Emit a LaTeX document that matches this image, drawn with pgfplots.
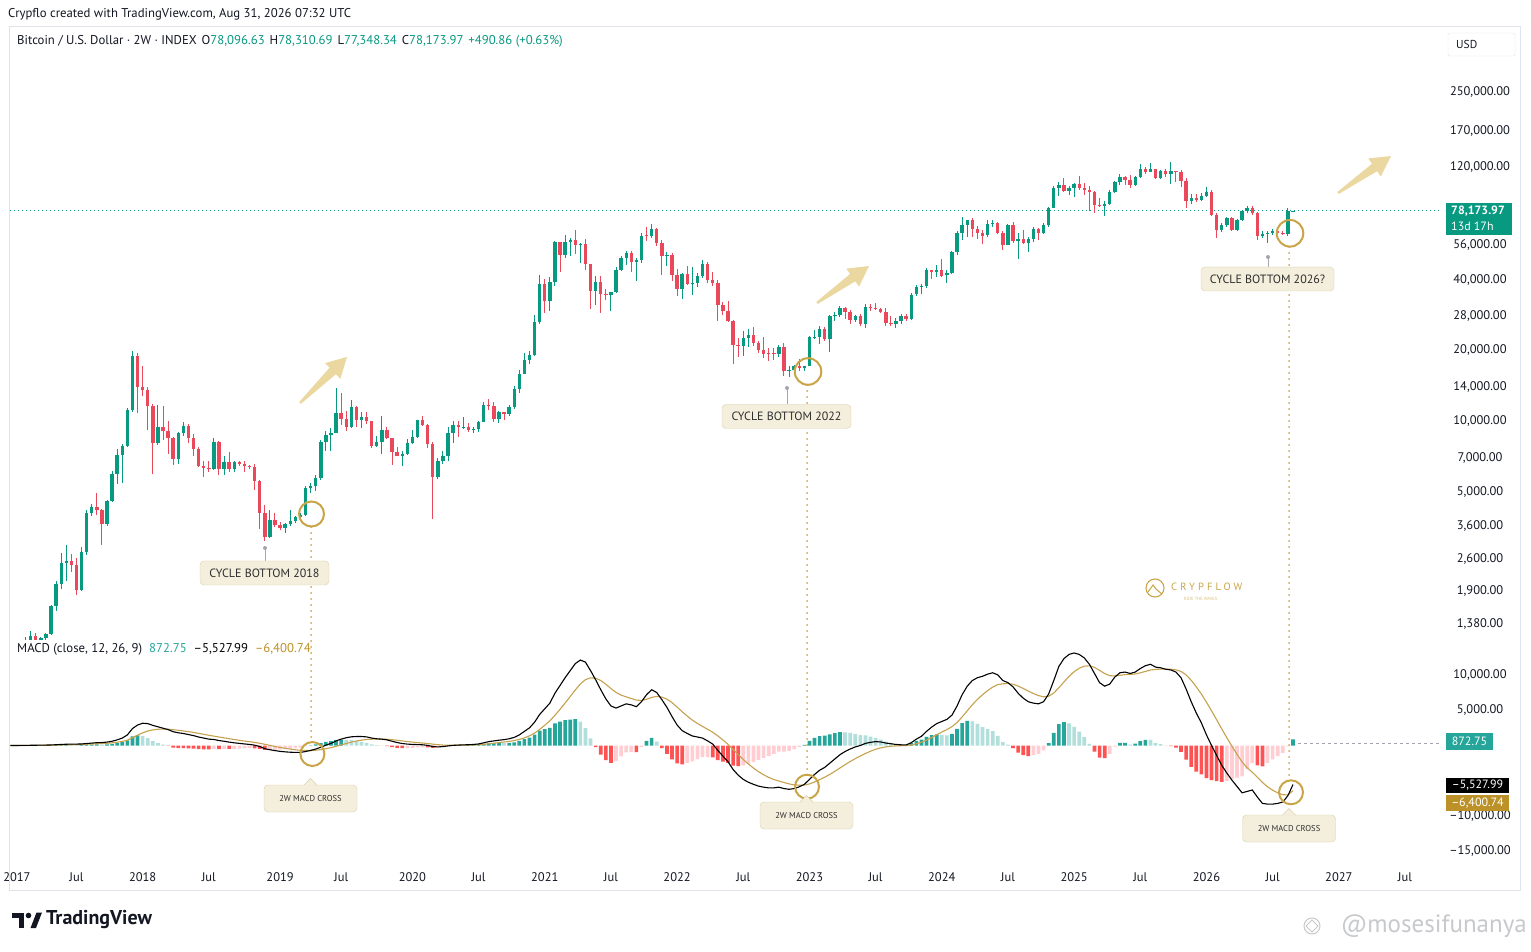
\documentclass[border=0pt]{standalone}
\usepackage{pgfplots}
\pgfplotsset{compat=1.18}
\usepackage{pgfplotstable}
\usepackage{fontspec}
\setmainfont{PT Sans}
\newfontfamily\lsfont[LetterSpace=30]{PT Sans}
\definecolor{tvgreen}{HTML}{089981}
\definecolor{tvred}{HTML}{E9495A}
\definecolor{tvtext}{HTML}{131722}
\definecolor{hgu}{HTML}{26A69A}
\definecolor{hfu}{HTML}{B2DFDB}
\definecolor{hgd}{HTML}{FFCDD2}
\definecolor{hfd}{HTML}{FF5252}
\definecolor{sigc}{HTML}{C6A24E}
\definecolor{sigbox}{HTML}{BC9228}
\definecolor{gold}{HTML}{C9A548}
\definecolor{boxfill}{HTML}{F4EEDC}
\definecolor{boxdraw}{HTML}{DCD0AC}
\definecolor{boxtext}{HTML}{2E2E2E}
\definecolor{arrowc}{HTML}{EAD8A0}
\definecolor{framec}{HTML}{E0E3EB}
\definecolor{ptrc}{HTML}{A3A6AE}
\definecolor{wmc}{HTML}{C8C9CC}

\pgfplotstableread{
i o h l c
0 998 1150 750 820
1 820 930 800 920
2 920 1060 910 995
3 995 1210 980 1180
4 1180 1290 1120 1230
5 1230 1260 890 1040
6 1040 1210 1010 1200
7 1200 1270 1170 1250
8 1250 1660 1240 1640
9 1640 2100 1560 2050
10 2050 2760 1950 2500
11 2500 2980 2100 2550
12 2550 2740 2300 2450
13 2450 2640 1840 1930
14 1930 2920 1900 2800
15 2800 4200 2700 4100
16 4100 4480 3950 4350
17 4350 4980 4000 4200
18 4200 4250 2980 3650
19 3650 4650 3580 4600
20 4600 6150 4550 5950
21 5950 7600 5400 7200
22 7200 8000 5500 7850
23 7850 11400 7800 11200
24 11200 19800 11000 19000
25 19000 19500 10800 14000
26 14000 17200 12800 13600
27 13600 14000 9200 11600
28 11600 11800 6000 8100
29 8100 11700 7900 9500
30 9500 11600 8300 9100
31 9100 10000 7300 8500
32 8500 8600 6500 6900
33 6900 9000 6600 8900
34 8900 9900 8700 9600
35 9600 9700 8100 8500
36 8500 8800 7100 7600
37 7600 7800 6400 6450
38 6450 6800 5800 6350
39 6350 6800 6100 6250
40 6250 8500 6200 8200
41 8200 8250 5900 6300
42 6300 7100 5900 6700
43 6700 7400 6100 6250
44 6250 6800 6100 6700
45 6700 6800 6450 6600
46 6600 6780 6100 6450
47 6450 6550 6250 6400
48 6400 6600 5100 5600
49 5600 5650 3500 4100
50 4100 4400 3120 3230
51 3230 4200 3200 3800
52 3800 4100 3550 3620
53 3620 3750 3450 3540
54 3540 3700 3370 3650
55 3650 4200 3580 3780
56 3780 3950 3700 3930
57 3930 4070 3830 4010
58 4010 5300 3950 5200
59 5200 5470 4950 5300
60 5300 5900 5050 5750
61 5750 8350 5650 8200
62 8200 9100 7500 8750
63 8750 9400 7450 8950
64 8950 13900 8950 10800
65 10800 13200 9650 10250
66 10250 11100 9100 9500
67 9500 12300 9400 11500
68 11500 11600 9500 10150
69 10150 10950 9350 10400
70 10400 10950 9750 10000
71 10000 10050 7700 7850
72 7850 8650 7800 8200
73 8200 10500 7300 9200
74 9200 9500 8400 8500
75 8500 8500 6500 7400
76 7400 7750 7100 7100
77 7100 7500 6450 7300
78 7300 8450 7200 8100
79 8100 9200 8050 8600
80 8600 10150 8500 10150
81 10150 10500 9600 9650
82 9650 9700 7700 8030
83 8030 8180 3850 5830
84 5830 7000 5700 6780
85 6780 7470 6600 7120
86 7120 9450 6800 8900
87 8900 10000 8100 9680
88 9680 10050 8600 9450
89 9450 10400 9300 9450
90 9450 9800 9000 9150
91 9150 9450 8950 9250
92 9250 10000 9050 9950
93 9950 12100 9900 11700
94 11700 12470 11150 11650
95 11650 12100 9900 10250
96 10250 11100 9850 10950
97 10950 10950 10150 10780
98 10780 11700 10550 11500
99 11500 14100 11300 13750
100 13750 16500 13200 15950
101 15950 19500 15900 18200
102 18200 19900 17600 19150
103 19150 28400 19000 26300
104 26300 41950 26000 38200
105 38200 40100 28800 32300
106 32300 40950 29300 38900
107 38900 58350 37400 57500
108 57500 58000 43000 51000
109 51000 61800 49300 57500
110 57500 60000 50400 58700
111 58700 64900 51500 56200
112 56200 57000 47000 56600
113 56600 59600 43900 46400
114 46400 46700 30000 35700
115 35700 41300 31100 39100
116 39100 41300 28800 34700
117 34700 36600 32700 34250
118 34250 35500 29300 35400
119 35400 45300 35200 43800
120 43800 50500 43500 49300
121 49300 52900 46300 51800
122 51800 52900 42900 47300
123 47300 49300 39600 48200
124 48200 62900 47100 61500
125 61500 67000 58100 61300
126 61300 69000 60100 65500
127 65500 66400 55600 57300
128 57300 59100 42000 50100
129 50100 52100 45600 50800
130 50800 52000 39600 41900
131 41900 44500 34000 36300
132 36300 42600 32900 42400
133 42400 45800 37900 38400
134 38400 45400 34300 38500
135 38500 42600 37200 41300
136 41300 48200 40500 46400
137 46400 47400 38600 39700
138 39700 42900 37600 38500
139 38500 40000 26700 31300
140 31300 32000 28200 29450
141 29450 32400 26500 26600
142 26600 26900 17600 21000
143 21000 22500 18800 20850
144 20850 24300 18900 22600
145 22600 24700 20700 23200
146 23200 25200 20800 21500
147 21500 22000 19500 20000
148 20000 22800 18500 19400
149 19400 20400 18100 19300
150 19300 20500 18200 19250
151 19250 21000 18700 20600
152 20600 21500 15600 16300
153 16300 17200 15500 16450
154 16450 17400 16000 17100
155 17100 18400 16300 16840
156 16840 17250 16350 17200
157 17200 23000 17150 22700
158 22700 24300 22300 22900
159 22900 25300 21400 24600
160 24600 25100 21900 22400
161 22400 28400 19600 28000
162 28000 29200 26600 28200
163 28200 31000 27800 30300
164 30300 30500 27100 29250
165 29250 29800 25900 26900
166 26900 28400 26300 28100
167 28100 28450 25350 25850
168 25850 31400 24800 30500
169 30500 31400 29500 30200
170 30200 31800 29700 30100
171 30100 30200 28900 29050
172 29050 30200 25300 26100
173 26100 28100 25400 25950
174 25950 27500 24900 26550
175 26550 28600 26000 27950
176 27950 28600 26550 27150
177 27150 35000 26900 34550
178 34550 38000 33900 37050
179 37050 38400 34800 37450
180 37450 44700 36900 43800
181 43800 44000 40200 43000
182 43000 45900 40800 43950
183 43950 49000 41500 41600
184 41600 43900 38500 42600
185 42600 52800 42300 52100
186 52100 64000 50600 63100
187 63100 73800 59000 68400
188 68400 71500 60800 71300
189 71300 72800 60700 65700
190 65700 67200 59600 63100
191 63100 64700 56500 61500
192 61500 71900 60700 68600
193 68600 71900 66600 69600
194 69600 70100 62900 63200
195 63200 64500 53500 55900
196 55900 68500 55900 68200
197 68200 70000 57100 58100
198 58100 62800 49000 59400
199 59400 65100 57200 57300
200 57300 60600 52500 59200
201 59200 66500 57500 65600
202 65600 66000 58900 62800
203 62800 69500 62400 67900
204 67900 81500 66800 80400
205 80400 99600 80200 97900
206 97900 104000 90700 101200
207 101200 108300 94000 95100
208 95100 99900 91500 98300
209 98300 102700 89300 101300
210 101300 109600 96200 97700
211 97700 102500 91200 96100
212 96100 99500 78200 94200
213 94200 95000 76600 82600
214 82600 88800 81200 82400
215 82400 86100 74400 83700
216 83700 95800 83100 93800
217 93800 104300 93400 104100
218 104100 112000 100700 109000
219 109000 110400 100400 105700
220 105700 110600 98200 101000
221 101000 110500 99600 109200
222 109200 123200 107500 117300
223 117300 120200 111900 114200
224 114200 124500 114100 117400
225 117400 117600 107300 108200
226 108200 116800 107300 115300
227 115300 118000 108700 112100
228 112100 126200 102000 115200
229 115200 116000 103500 114500
230 114500 116400 98900 104700
231 104700 107500 80700 86000
232 86000 92000 83500 88800
233 88800 92500 85500 87000
234 87000 92800 86000 90600
235 90600 98500 89500 94400
236 94400 96000 74500 75100
237 75100 76300 59800 65000
238 65000 69500 63800 68100
239 68100 73500 67000 72800
240 72800 74000 64500 65000
241 65000 72500 64200 71600
242 71600 78800 70800 78000
243 78000 81800 77000 80700
244 80700 82000 75500 76300
245 76300 77500 58900 61400
246 61400 64200 60200 62500
247 62500 64500 57300 63300
248 63300 65500 62000 64000
249 64000 65000 62500 63000
250 63000 64200 61800 62300
251 62300 80700 61000 78096.63
252 78096.63 78310.69 77348.34 78173.97
}\candles

\pgfplotstableread{
i m s h k
0 0 0 0 2
1 0 0 0 2
2 10 2 8 1
3 20 6 14 1
4 30 11 19 1
5 40 17 23 1
6 50 24 26 1
7 60 31 29 1
8 80 41 39 1
9 110 55 55 1
10 150 74 76 1
11 180 95 85 1
12 200 116 84 2
13 200 133 67 2
14 220 150 70 1
15 280 176 104 1
16 340 209 131 1
17 400 247 153 1
18 420 282 138 2
19 480 322 158 1
20 600 378 222 1
21 800 462 338 1
22 1050 580 470 1
23 1500 764 736 1
24 2400 1091 1309 1
25 2900 1453 1447 1
26 3150 1792 1358 2
27 3100 2054 1046 2
28 2850 2213 637 2
29 2650 2300 350 2
30 2450 2330 120 2
31 2250 2314 -64 4
32 1950 2241 -291 4
33 1800 2153 -353 4
34 1700 2062 -362 4
35 1550 1960 -410 4
36 1400 1848 -448 4
37 1200 1718 -518 4
38 1050 1584 -534 4
39 900 1447 -547 4
40 850 1328 -478 3
41 700 1202 -502 4
42 600 1082 -482 3
43 480 962 -482 4
44 380 846 -466 3
45 300 737 -437 3
46 220 634 -414 3
47 150 537 -387 3
48 50 440 -390 4
49 -150 322 -472 4
50 -450 168 -618 4
51 -600 14 -614 3
52 -720 -133 -587 3
53 -830 -272 -558 3
54 -900 -398 -502 3
55 -950 -508 -442 3
56 -980 -602 -378 3
57 -980 -678 -302 3
58 -850 -712 -138 3
59 -700 -710 10 1
60 -500 -668 168 1
61 -250 -584 334 1
62 50 -457 507 1
63 300 -306 606 1
64 650 -115 765 1
65 900 88 812 1
66 1100 290 810 2
67 1230 478 752 2
68 1270 636 634 2
69 1270 763 507 2
70 1220 854 366 2
71 1050 893 157 2
72 950 904 46 2
73 900 903 -3 4
74 800 882 -82 4
75 600 826 -226 4
76 420 745 -325 4
77 280 652 -372 4
78 200 562 -362 3
79 150 480 -330 3
80 130 410 -280 3
81 100 348 -248 3
82 20 282 -262 4
83 -150 196 -346 4
84 -200 117 -317 3
85 -150 64 -214 3
86 -60 39 -99 3
87 20 35 -15 3
88 60 40 20 1
89 90 50 40 1
90 110 62 48 1
91 150 80 70 1
92 220 108 112 1
93 380 162 218 1
94 550 240 310 1
95 650 322 328 1
96 750 408 342 1
97 830 492 338 2
98 950 584 366 1
99 1150 697 453 1
100 1500 858 642 1
101 2000 1086 914 1
102 2500 1369 1131 1
103 3300 1755 1545 1
104 4400 2284 2116 1
105 5200 2867 2333 1
106 6000 3494 2506 1
107 7400 4275 3125 1
108 8500 5120 3380 1
109 9600 6016 3584 1
110 10600 6933 3667 1
111 11600 7866 3734 1
112 12100 8713 3387 2
113 11800 9330 2470 2
114 10600 9584 1016 2
115 9300 9527 -227 4
116 7900 9202 -1302 4
117 6600 8682 -2082 4
118 5600 8066 -2466 4
119 5300 7513 -2213 3
120 5600 7130 -1530 3
121 5900 6884 -984 3
122 5750 6657 -907 3
123 5500 6426 -926 4
124 6200 6381 -181 3
125 7200 6545 655 1
126 7900 6816 1084 1
127 7500 6953 547 2
128 6500 6862 -362 4
129 5400 6570 -1170 4
130 4100 6076 -1976 4
131 2900 5441 -2541 4
132 2100 4773 -2673 4
133 1700 4158 -2458 3
134 1350 3596 -2246 3
135 1200 3117 -1917 3
136 1050 2704 -1654 3
137 650 2293 -1643 3
138 200 1874 -1674 4
139 -700 1359 -2059 4
140 -1500 787 -2287 4
141 -2300 170 -2470 4
142 -3400 -544 -2856 4
143 -4200 -1275 -2925 4
144 -4800 -1980 -2820 3
145 -5200 -2624 -2576 3
146 -5500 -3199 -2301 3
147 -5750 -3709 -2041 3
148 -5900 -4147 -1753 3
149 -6000 -4518 -1482 3
150 -6000 -4814 -1186 3
151 -5900 -5031 -869 3
152 -6100 -5245 -855 3
153 -6200 -5436 -764 3
154 -6100 -5569 -531 3
155 -5850 -5625 -225 3
156 -5500 -5600 100 1
157 -4800 -5440 640 1
158 -4100 -5172 1072 1
159 -3500 -4838 1338 1
160 -3100 -4490 1390 1
161 -2500 -4092 1592 1
162 -1900 -3654 1754 1
163 -1300 -3183 1883 1
164 -850 -2716 1866 2
165 -500 -2273 1773 2
166 -200 -1858 1658 2
167 0 -1486 1486 2
168 300 -1129 1429 2
169 450 -813 1263 2
170 550 -540 1090 2
171 500 -332 832 2
172 350 -196 546 2
173 250 -107 357 2
174 150 -56 206 2
175 100 -25 125 2
176 80 -4 84 2
177 400 77 323 1
178 900 242 658 1
179 1300 454 846 1
180 2000 763 1237 1
181 2600 1130 1470 1
182 3100 1524 1576 1
183 3400 1899 1501 2
184 3700 2259 1441 2
185 4300 2667 1633 1
186 5600 3254 2346 1
187 7200 4043 3157 1
188 8400 4914 3486 1
189 9200 5771 3429 2
190 9600 6537 3063 2
191 9800 7190 2610 2
192 10100 7772 2328 2
193 10300 8278 2022 2
194 10000 8622 1378 2
195 9200 8738 462 2
196 8900 8770 130 2
197 8300 8676 -376 4
198 7400 8421 -1021 4
199 6700 8077 -1377 4
200 6200 7702 -1502 4
201 6000 7362 -1362 3
202 5900 7070 -1170 3
203 6200 6896 -696 3
204 7300 6977 323 1
205 9200 7422 1778 1
206 11200 8178 3022 1
207 12300 9002 3298 1
208 12900 9782 3118 2
209 13100 10446 2654 2
210 12900 10937 1963 2
211 12400 11230 1170 2
212 11500 11284 216 2
213 10200 11067 -867 4
214 8900 10634 -1734 4
215 8400 10187 -1787 4
216 8700 9890 -1190 3
217 9700 9852 -152 3
218 10300 9942 358 1
219 10400 10034 366 1
220 10200 10067 133 2
221 10400 10134 266 1
222 10900 10287 613 1
223 11300 10490 810 1
224 11500 10692 808 2
225 11100 10774 326 2
226 11000 10819 181 2
227 10800 10815 -15 4
228 10700 10792 -92 4
229 10400 10714 -314 4
230 9600 10491 -891 4
231 8000 9993 -1993 4
232 6200 9234 -3034 4
233 4600 8307 -3707 4
234 3200 7286 -4086 4
235 1500 6129 -4629 4
236 0 4903 -4903 4
237 -1400 3642 -5042 4
238 -2800 2354 -5154 4
239 -3900 1103 -5003 3
240 -4900 -98 -4802 3
241 -5800 -1238 -4562 3
242 -6700 -2330 -4370 3
243 -6500 -3164 -3336 3
244 -6300 -3791 -2509 3
245 -7300 -4493 -2807 4
246 -8200 -5234 -2966 4
247 -8300 -5847 -2453 3
248 -8300 -6338 -1962 3
249 -8200 -6710 -1490 3
250 -8000 -6968 -1032 3
251 -7100 -6994 -106 3
252 -5527.99 -6400.74 872.75 1
}\macd

\newcommand\tickfont{\fontsize{12.5}{14}\selectfont}
\newcommand\crossbox[2]{%
  \node[draw=boxdraw, fill=boxfill, rounded corners=4pt, minimum width=93pt, minimum height=27pt, inner sep=0pt, font=\fontsize{8.5}{10}\selectfont, text=boxtext] at (#1,#2) {2W MACD CROSS};
  \begin{scope}[shift={(#1,#2)}]
    \fill[boxfill] (-6.5,12.8) -- (0,20) -- (6.5,12.8) -- cycle;
    \draw[boxdraw] (-6.5,13.5) -- (0,20) -- (6.5,13.5);
  \end{scope}}
\newcommand\cyclebox[4]{% x y width text
  \node[draw=boxdraw, fill=boxfill, rounded corners=4pt, minimum width=#3pt, minimum height=24pt, inner sep=0pt, font=\fontsize{12}{14}\selectfont, text=boxtext] at (#1,#2) {#4};}
\newcommand\fatarrow[4]{% x y angle length
  \begin{scope}[shift={(#1,#2)}, rotate=#3]
    \fill[arrowc] (0,-1.2) -- (#4-20,-4.5) -- (#4-20,-11) -- (#4,0) -- (#4-20,11) -- (#4-20,4.5) -- (0,1.2) -- cycle;
  \end{scope}}
\pgfplotsset{candle/.style={only marks, mark=*, mark size=0pt, mark options={draw=none, fill=none}}}

\begin{document}
\begin{tikzpicture}[x=1pt,y=1pt]
\useasboundingbox (0,0) rectangle (1531,951);
\fill[white] (0,0) rectangle (1531,951);

% ---------------- price pane ----------------
\begin{axis}[
  at={(10pt,311pt)}, anchor=south west, scale only axis,
  width=1430pt, height=612pt,
  xmin=-0.06, xmax=280.88, ymin=3.0720, ymax=5.6696,
  axis line style={draw=none}, tick style={draw=none},
  xtick=\empty,
  ytick={5.39794,5.23045,5.07918,4.74819,4.60206,4.44716,4.30103,4.14613,4,3.84510,3.69897,3.55630,3.41497,3.27875,3.13988},
  yticklabels={{250,000.00},{170,000.00},{120,000.00},{56,000.00},{40,000.00},{28,000.00},{20,000.00},{14,000.00},{10,000.00},{7,000.00},{5,000.00},{3,600.00},{2,600.00},{1,900.00},{1,380.00}},
  yticklabel pos=right,
  yticklabel style={anchor=center, xshift=40pt, font=\tickfont, text=tvtext},
  scaled y ticks=false,
]
\addplot[tvgreen, line width=1pt, dash pattern=on 1pt off 3pt] coordinates {(-0.06,4.893062) (280.88,4.893062)};
% wicks
\addplot[candle, restrict expr to domain={\thisrow{c}-\thisrow{o}}{0:1000000},
  error bars/.cd, y dir=both, y explicit, error mark=none, error bar style={line width=1pt, draw=tvgreen}]
  table[x=i, y expr={ln(\thisrow{c})/ln(10)},
        y error plus expr={(ln(\thisrow{h})-ln(\thisrow{c}))/ln(10)},
        y error minus expr={(ln(\thisrow{c})-ln(\thisrow{l}))/ln(10)}]{\candles};
\addplot[candle, restrict expr to domain={\thisrow{c}-\thisrow{o}}{-1000000:-0.0001},
  error bars/.cd, y dir=both, y explicit, error mark=none, error bar style={line width=1pt, draw=tvred}]
  table[x=i, y expr={ln(\thisrow{c})/ln(10)},
        y error plus expr={(ln(\thisrow{h})-ln(\thisrow{c}))/ln(10)},
        y error minus expr={(ln(\thisrow{c})-ln(\thisrow{l}))/ln(10)}]{\candles};
% bodies
\addplot[candle, restrict expr to domain={\thisrow{c}-\thisrow{o}}{0:1000000},
  error bars/.cd, y dir=minus, y explicit, error mark=none, error bar style={line width=3.4pt, draw=tvgreen}]
  table[x=i, y expr={ln(\thisrow{c})/ln(10)},
        y error minus expr={max((ln(\thisrow{c})-ln(\thisrow{o}))/ln(10),0.004)}]{\candles};
\addplot[candle, restrict expr to domain={\thisrow{c}-\thisrow{o}}{-1000000:-0.0001},
  error bars/.cd, y dir=plus, y explicit, error mark=none, error bar style={line width=3.4pt, draw=tvred}]
  table[x=i, y expr={ln(\thisrow{c})/ln(10)},
        y error plus expr={max((ln(\thisrow{o})-ln(\thisrow{c}))/ln(10),0.004)}]{\candles};
\end{axis}

% ---------------- MACD pane ----------------
\begin{axis}[
  at={(10pt,86pt)}, anchor=south west, scale only axis,
  width=1430pt, height=225pt,
  xmin=-0.06, xmax=280.88, ymin=-16921, ymax=14939,
  axis line style={draw=none}, tick style={draw=none},
  xtick={1.3,13,26,39,53,65,79,92,105,118,131,144,157,170,183,196,209,222,235,248,261,274},
  xticklabels={2017,Jul,2018,Jul,2019,Jul,2020,Jul,2021,Jul,2022,Jul,2023,Jul,2024,Jul,2025,Jul,2026,Jul,2027,Jul},
  xticklabel style={anchor=center, yshift=-12pt, font=\tickfont, text=tvtext},
  ytick={10000,5000,-10000,-15000},
  yticklabels={{10,000.00},{5,000.00},{–10,000.00},{–15,000.00}},
  yticklabel pos=right,
  yticklabel style={anchor=center, xshift=40pt, font=\tickfont, text=tvtext},
  scaled y ticks=false, scaled x ticks=false,
]
\addplot[ybar, bar width=0.72, bar shift=0pt, fill=hgu, draw=none, restrict expr to domain={\thisrow{k}}{1:1}] table[x=i,y=h]{\macd};
\addplot[ybar, bar width=0.72, bar shift=0pt, fill=hfu, draw=none, restrict expr to domain={\thisrow{k}}{2:2}] table[x=i,y=h]{\macd};
\addplot[ybar, bar width=0.72, bar shift=0pt, fill=hgd, draw=none, restrict expr to domain={\thisrow{k}}{3:3}] table[x=i,y=h]{\macd};
\addplot[ybar, bar width=0.72, bar shift=0pt, fill=hfd, draw=none, restrict expr to domain={\thisrow{k}}{4:4}] table[x=i,y=h]{\macd};
\addplot[sigc, line width=1.1pt] table[x=i,y=s]{\macd};
\addplot[black, line width=1.1pt] table[x=i,y=m]{\macd};
\addplot[ptrc, line width=0.8pt, dash pattern=on 3pt off 3pt] coordinates {(253,300) (280.88,300)};
\end{axis}

\draw[framec, line width=1pt] (9.5,61) rectangle (1520.5,924);

% arrows
\fatarrow{300}{548}{44.4}{65.8}
\fatarrow{817}{648}{35.4}{63.8}
\fatarrow{1338}{758}{34.9}{64.6}

% dotted verticals
\begin{scope}[gold, line width=2pt, line cap=round, dash pattern=on 0pt off 6pt]
\draw (311,424) -- (311,211);
\draw (807,566) -- (807,178);
\draw (1289,704) -- (1289,172);
\end{scope}

% circles
\begin{scope}[gold, line width=2pt]
\draw (311.5,437) circle (12.5);
\draw (808,579.5) circle (13.3);
\draw (1290,717.7) circle (13.3);
\draw (312.4,197) circle (12);
\draw (807,164.3) circle (12);
\draw (1291,158.7) circle (12);
\end{scope}

% cycle bottom pointers and boxes
\begin{scope}[ptrc, line width=0.8pt]
\draw (265,403) -- (265,390); \fill (265,403) circle (2);
\draw (787,563) -- (787,547); \fill (787,563) circle (2);
\draw (1268,694) -- (1268,684); \fill (1268,694) circle (2);
\end{scope}
\cyclebox{264.5}{378}{129}{CYCLE BOTTOM 2018}
\cyclebox{786.5}{534.5}{129}{CYCLE BOTTOM 2022}
\cyclebox{1267.5}{672}{133}{CYCLE BOTTOM 2026?}

\crossbox{310.5}{152.5}
\crossbox{806.5}{135.5}
\crossbox{1289}{122.5}

% CRYPFLOW logo
\draw[gold, line width=1.1pt] (1155,363) circle (9);
\draw[gold, line width=1pt] (1148,359) -- (1153,366) -- (1156,362) -- (1162,357);
\node[anchor=west, inner sep=0pt, text=gold, font=\lsfont\fontsize{10.5}{12}\selectfont] at (1171,364) {CRYPFLOW};
\node[anchor=west, inner sep=0pt, text=gold!70, font=\fontsize{4.5}{5}\selectfont] at (1184,352) {RIDE THE WAVES};

% right-side value boxes
\fill[tvgreen] (1446,716) rectangle (1512,748);
\node[anchor=west, inner sep=0pt, text=white, font=\bfseries\fontsize{12}{13}\selectfont] at (1451,739.5) {78,173.97};
\node[anchor=west, inner sep=0pt, text=white, font=\fontsize{12}{13}\selectfont] at (1451,724.5) {13d 17h};
\fill[hgu] (1446,201) rectangle (1493,218);
\node[inner sep=0pt, text=white, font=\fontsize{12}{13}\selectfont] at (1469.5,209.5) {872.75};
\fill[black] (1446,158) rectangle (1509,173);
\node[inner sep=0pt, text=white, font=\fontsize{12}{13}\selectfont] at (1477.5,165.5) {–5,527.99};
\fill[sigbox] (1446,140) rectangle (1509,156);
\node[inner sep=0pt, text=white, font=\fontsize{12}{13}\selectfont] at (1477.5,148) {–6,400.74};

% USD box
\draw[framec, fill=white, rounded corners=2pt] (1448,895) rectangle (1515,918);
\node[anchor=west, inner sep=0pt, text=tvtext, font=\fontsize{11.5}{13}\selectfont] at (1456,906.5) {USD};

% header and legends
\node[anchor=west, inner sep=0pt, text=tvtext, font=\fontsize{12.75}{14}\selectfont] at (8,937) {Crypflo created with TradingView.com, Aug 31, 2026 07:32 UTC};
\node[anchor=west, inner sep=0pt, text=tvtext, font=\fontsize{12.75}{14}\selectfont] at (17,910) {Bitcoin / U.S. Dollar · 2W · INDEX\hspace{5pt}O\textcolor{tvgreen}{78,096.63}\hspace{5pt}H\textcolor{tvgreen}{78,310.69}\hspace{5pt}L\textcolor{tvgreen}{77,348.34}\hspace{5pt}C\textcolor{tvgreen}{78,173.97}\hspace{5pt}\textcolor{tvgreen}{+490.86 (+0.63\%)}};
\node[anchor=west, inner sep=0pt, text=tvtext, font=\fontsize{12.75}{14}\selectfont] at (17,302) {MACD (close, 12, 26, 9)\hspace{7pt}\textcolor{hgu}{872.75}\hspace{7pt}\textcolor{black}{–5,527.99}\hspace{7pt}\textcolor{sigbox}{–6,400.74}};

% TradingView logo
\fill[tvtext] (12,33) rectangle (24,38.5);
\fill[tvtext] (18.5,23) rectangle (24,38.5);
\fill[tvtext] (28.5,35.5) circle (2.8);
\fill[tvtext] (30.5,23) -- (36,23) -- (42,38.5) -- (36.5,38.5) -- cycle;
\node[anchor=west, inner sep=0pt, text=tvtext, font=\bfseries\fontsize{20}{22}\selectfont] at (46,31) {TradingView};

% watermark
\draw[wmc, line width=1pt] (1312,25) circle (8);
\draw[wmc, line width=0.8pt] (1306,25) -- (1312,31) -- (1318,25) -- (1312,19) -- cycle;
\node[anchor=east, inner sep=0pt, text=wmc, font=\fontsize{25}{27}\selectfont] at (1527,25) {@mosesifunanya};
\end{tikzpicture}
\end{document}
